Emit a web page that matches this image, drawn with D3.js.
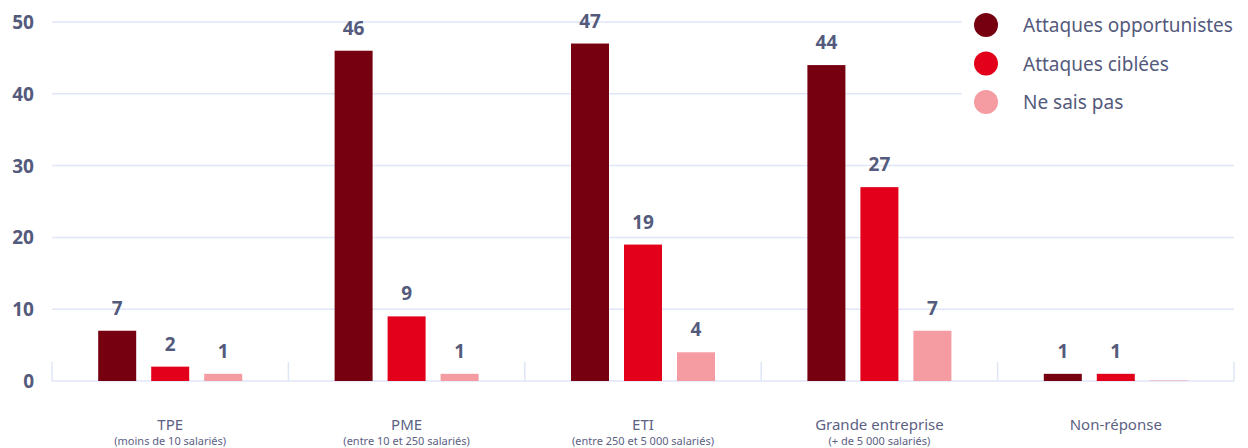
<!DOCTYPE html>
<html>
<head>
<meta charset="utf-8">
<script src="https://cdn.jsdelivr.net/npm/d3@7"></script>
<style>
  body { margin: 0; background: #fff; }
  text { font-family: "Noto Sans", sans-serif; }
</style>
</head>
<body>
<div id="chart"></div>
<script>
var categories = ["TPE", "PME", "ETI", "Grande entreprise", "Non-réponse"];
var subLabels = ["(moins de 10 salariés)", "(entre 10 et 250 salariés)", "(entre 250 et 5 000 salariés)", "(+ de 5 000 salariés)", ""];
var seriesNames = ["Attaques opportunistes", "Attaques ciblées", "Ne sais pas"];
var opportunistes = [7, 46, 47, 44, 1];
var ciblees = [2, 9, 19, 27, 1];
var neSaisPas = [1, 1, 4, 7, 0];
var yTicks = [0, 10, 20, 30, 40, 50];
var colors = ["#760010", "#e3001b", "#f49ca2"];

var width = 1248, height = 448;
var margin = {top: 22, right: 14, bottom: 67, left: 52};

var svg = d3.select("#chart")
  .append("svg")
    .attr("width", width)
    .attr("height", height);

var x = d3.scaleBand()
  .domain(categories)
  .range([margin.left, width - margin.right]);

var x1 = d3.scaleBand()
  .domain(seriesNames)
  .range([-72, 72])
  .paddingInner(0.283)
  .paddingOuter(0);

var y = d3.scaleLinear()
  .domain([0, 50])
  .range([height - margin.bottom, margin.top]);

// grid
svg.append("g")
  .selectAll("line")
  .data(yTicks)
  .enter()
  .append("line")
    .attr("x1", margin.left)
    .attr("x2", width - margin.right)
    .attr("y1", function(d) { return y(d); })
    .attr("y2", function(d) { return y(d); })
    .attr("stroke", "#dfe6f6")
    .attr("stroke-width", 1.5);

// y labels
svg.append("g")
  .selectAll("text")
  .data(yTicks)
  .enter()
  .append("text")
    .attr("x", 34)
    .attr("y", function(d) { return y(d) + 7; })
    .attr("text-anchor", "end")
    .attr("font-size", "19px")
    .attr("font-weight", "bold")
    .attr("fill", "#545a7c")
    .text(function(d) { return d; });

// category separators
var seps = [margin.left].concat(categories.map(function(c) { return x(c) + x.bandwidth(); }));
svg.append("g")
  .selectAll("line")
  .data(seps)
  .enter()
  .append("line")
    .attr("x1", function(d) { return d; })
    .attr("x2", function(d) { return d; })
    .attr("y1", y(0) - 19)
    .attr("y2", y(0))
    .attr("stroke", "#dfe6f6")
    .attr("stroke-width", 1.5);

var rows = categories.map(function(c, i) {
  return {cat: c, values: [opportunistes[i], ciblees[i], neSaisPas[i]]};
});

var groups = svg.selectAll(".grp")
  .data(rows)
  .enter()
  .append("g")
    .attr("transform", function(d) { return "translate(" + (x(d.cat) + x.bandwidth() / 2) + ",0)"; });

groups.selectAll("rect")
  .data(function(d) { return d.values.map(function(v, j) { return {s: seriesNames[j], v: v, j: j}; }); })
  .enter()
  .append("rect")
    .attr("x", function(d) { return x1(d.s); })
    .attr("width", x1.bandwidth())
    .attr("y", function(d) { return d.v === 0 ? y(0) - 1 : y(d.v); })
    .attr("height", function(d) { return d.v === 0 ? 1 : y(0) - y(d.v); })
    .attr("fill", function(d) { return colors[d.j]; })
    .attr("opacity", function(d) { return d.v === 0 ? 0.5 : 1; });

groups.selectAll("text")
  .data(function(d) { return d.values.map(function(v, j) { return {s: seriesNames[j], v: v}; }).filter(function(d) { return d.v > 0; }); })
  .enter()
  .append("text")
    .attr("x", function(d) { return x1(d.s) + x1.bandwidth() / 2; })
    .attr("y", function(d) { return y(d.v) - 16; })
    .attr("text-anchor", "middle")
    .attr("font-size", "19px")
    .attr("font-weight", "bold")
    .attr("fill", "#545a7c")
    .text(function(d) { return d.v; });

// x labels
svg.append("g")
  .selectAll("text")
  .data(categories)
  .enter()
  .append("text")
    .attr("x", function(d) { return x(d) + x.bandwidth() / 2; })
    .attr("y", 430)
    .attr("text-anchor", "middle")
    .attr("font-size", "15px")
    .attr("fill", "#5c6184")
    .text(function(d) { return d; });

svg.append("g")
  .selectAll("text")
  .data(subLabels)
  .enter()
  .append("text")
    .attr("x", function(d, i) { return x(categories[i]) + x.bandwidth() / 2; })
    .attr("y", 445)
    .attr("text-anchor", "middle")
    .attr("font-size", "11px")
    .attr("fill", "#5c6184")
    .text(function(d) { return d; });

// legend
var legend = svg.append("g");
legend.append("rect")
  .attr("x", 962)
  .attr("y", 5)
  .attr("width", 286)
  .attr("height", 120)
  .attr("fill", "#fff");

var items = legend.selectAll(".item")
  .data(seriesNames)
  .enter()
  .append("g")
    .attr("transform", function(d, i) { return "translate(0," + (25 + i * 38.5) + ")"; });

items.append("circle")
  .attr("cx", 986)
  .attr("cy", 0)
  .attr("r", 12)
  .attr("fill", function(d, i) { return colors[i]; });

items.append("text")
  .attr("x", 1023)
  .attr("y", 7)
  .attr("font-size", "19px")
  .attr("fill", "#545a7c")
  .text(function(d) { return d; });
</script>
</body>
</html>
